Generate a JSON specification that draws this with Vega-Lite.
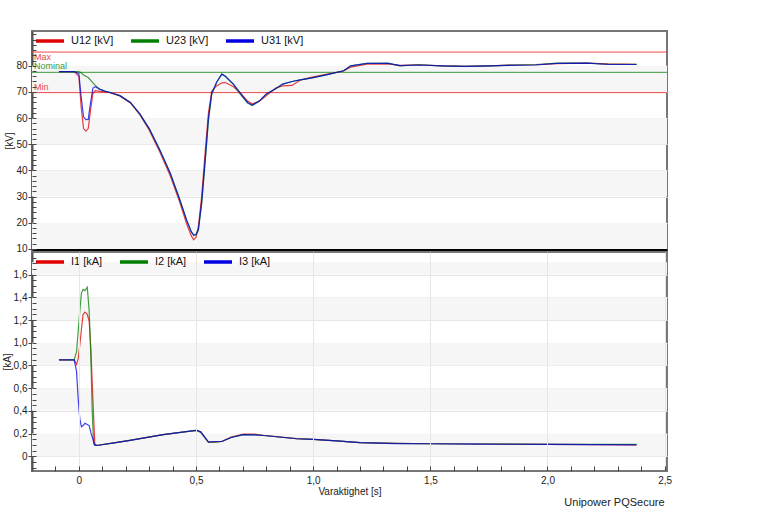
{
  "$schema": "https://vega.github.io/schema/vega-lite/v6.json",
  "padding": {"left": 1, "top": 22, "right": 10, "bottom": 0},
  "bounds": "flush",
  "title": {
    "text": "Unipower PQSecure",
    "orient": "bottom",
    "anchor": "end",
    "fontSize": 11,
    "fontWeight": "normal",
    "color": "#222",
    "offset": 0,
    "dx": -8
  },
  "datasets": {
    "voltage": [
      {"t": -0.085, "U12": 77.8, "U23": 77.8, "U31": 77.8},
      {"t": -0.02, "U12": 77.8, "U23": 77.8, "U31": 77.8},
      {"t": 0.0, "U12": 76, "U23": 77.8, "U31": 77},
      {"t": 0.01, "U12": 64, "U23": 77.3, "U31": 68},
      {"t": 0.02, "U12": 56, "U23": 76.5, "U31": 60.5},
      {"t": 0.03, "U12": 55, "U23": 76, "U31": 59.4},
      {"t": 0.04, "U12": 56, "U23": 75.5, "U31": 59.5},
      {"t": 0.05, "U12": 63, "U23": 74.5, "U31": 66},
      {"t": 0.06, "U12": 69.5, "U23": 73.5, "U31": 71.5},
      {"t": 0.07, "U12": 70.5, "U23": 72.5, "U31": 72},
      {"t": 0.09, "U12": 70.2, "U23": 71, "U31": 71},
      {"t": 0.11, "U12": 70, "U23": 70.3, "U31": 70.3},
      {"t": 0.13, "U12": 69.8, "U23": 69.9, "U31": 69.9},
      {"t": 0.175, "U12": 68.5, "U23": 68.6, "U31": 68.6},
      {"t": 0.22, "U12": 65.8, "U23": 66, "U31": 66},
      {"t": 0.26, "U12": 61.3, "U23": 61.6, "U31": 61.6},
      {"t": 0.30, "U12": 55.5, "U23": 56, "U31": 56},
      {"t": 0.346, "U12": 47, "U23": 47.7, "U31": 47.7},
      {"t": 0.39, "U12": 38, "U23": 38.9, "U31": 38.9},
      {"t": 0.43, "U12": 28, "U23": 29, "U31": 29},
      {"t": 0.46, "U12": 19.5, "U23": 21, "U31": 21},
      {"t": 0.48, "U12": 15, "U23": 16.5, "U31": 16.5},
      {"t": 0.49, "U12": 13.5, "U23": 15.4, "U31": 15.2},
      {"t": 0.50, "U12": 14.5, "U23": 15.5, "U31": 15.5},
      {"t": 0.51, "U12": 18.5, "U23": 17, "U31": 17.5},
      {"t": 0.524, "U12": 30, "U23": 27, "U31": 28},
      {"t": 0.538, "U12": 46, "U23": 42, "U31": 43},
      {"t": 0.553, "U12": 62, "U23": 59, "U31": 60},
      {"t": 0.567, "U12": 70.3, "U23": 69, "U31": 69.5},
      {"t": 0.588, "U12": 72.3, "U23": 73.7, "U31": 73.7},
      {"t": 0.61, "U12": 73.5, "U23": 76.8, "U31": 76.8},
      {"t": 0.625, "U12": 73.6, "U23": 76, "U31": 76},
      {"t": 0.66, "U12": 72, "U23": 72.8, "U31": 73},
      {"t": 0.69, "U12": 69.5, "U23": 69, "U31": 69.5},
      {"t": 0.72, "U12": 66.5, "U23": 65.8, "U31": 66},
      {"t": 0.74, "U12": 65.5, "U23": 64.8, "U31": 65},
      {"t": 0.77, "U12": 66.5, "U23": 66.5, "U31": 66.5},
      {"t": 0.80, "U12": 68.5, "U23": 69.2, "U31": 69.2},
      {"t": 0.84, "U12": 71.5, "U23": 71.2, "U31": 71.2},
      {"t": 0.87, "U12": 72.3, "U23": 73, "U31": 73},
      {"t": 0.91, "U12": 72.5, "U23": 74, "U31": 74},
      {"t": 0.944, "U12": 74.5, "U23": 74.6, "U31": 74.6},
      {"t": 0.99, "U12": 75.6, "U23": 75.3, "U31": 75.3},
      {"t": 1.06, "U12": 76.8, "U23": 76.6, "U31": 76.6},
      {"t": 1.13, "U12": 78, "U23": 78.1, "U31": 78.1},
      {"t": 1.16, "U12": 79.5, "U23": 80, "U31": 80},
      {"t": 1.23, "U12": 80.6, "U23": 80.9, "U31": 80.9},
      {"t": 1.32, "U12": 80.7, "U23": 81, "U31": 80.9},
      {"t": 1.37, "U12": 80.2, "U23": 80, "U31": 80.1},
      {"t": 1.45, "U12": 80.4, "U23": 80.4, "U31": 80.3},
      {"t": 1.55, "U12": 80, "U23": 80, "U31": 80},
      {"t": 1.65, "U12": 79.8, "U23": 79.8, "U31": 79.8},
      {"t": 1.75, "U12": 80, "U23": 80, "U31": 80},
      {"t": 1.85, "U12": 80.3, "U23": 80.3, "U31": 80.2},
      {"t": 1.95, "U12": 80.4, "U23": 80.5, "U31": 80.3},
      {"t": 2.04, "U12": 80.8, "U23": 81, "U31": 80.9},
      {"t": 2.17, "U12": 81, "U23": 81, "U31": 81},
      {"t": 2.26, "U12": 80.7, "U23": 80.6, "U31": 80.5},
      {"t": 2.38, "U12": 80.6, "U23": 80.6, "U31": 80.5}
    ],
    "current": [
      {"t": -0.085, "I1": 0.85, "I2": 0.85, "I3": 0.85},
      {"t": -0.02, "I1": 0.85, "I2": 0.85, "I3": 0.85},
      {"t": -0.01, "I1": 0.81, "I2": 0.92, "I3": 0.75},
      {"t": -0.003, "I1": 0.86, "I2": 1.10, "I3": 0.51},
      {"t": 0.004, "I1": 0.98, "I2": 1.28, "I3": 0.33},
      {"t": 0.011, "I1": 1.12, "I2": 1.44, "I3": 0.26},
      {"t": 0.018, "I1": 1.25, "I2": 1.47, "I3": 0.27},
      {"t": 0.026, "I1": 1.27, "I2": 1.46, "I3": 0.29},
      {"t": 0.036, "I1": 1.25, "I2": 1.49, "I3": 0.28},
      {"t": 0.044, "I1": 1.19, "I2": 1.28, "I3": 0.27},
      {"t": 0.051, "I1": 0.95, "I2": 0.89, "I3": 0.21},
      {"t": 0.057, "I1": 0.65, "I2": 0.39, "I3": 0.17},
      {"t": 0.063, "I1": 0.35, "I2": 0.11, "I3": 0.13},
      {"t": 0.068, "I1": 0.11, "I2": 0.10, "I3": 0.095},
      {"t": 0.076, "I1": 0.095, "I2": 0.095, "I3": 0.095},
      {"t": 0.15, "I1": 0.118, "I2": 0.118, "I3": 0.118},
      {"t": 0.218, "I1": 0.14, "I2": 0.14, "I3": 0.14},
      {"t": 0.36, "I1": 0.19, "I2": 0.19, "I3": 0.19},
      {"t": 0.45, "I1": 0.215, "I2": 0.215, "I3": 0.215},
      {"t": 0.503, "I1": 0.228, "I2": 0.225, "I3": 0.23},
      {"t": 0.52, "I1": 0.215, "I2": 0.21, "I3": 0.215},
      {"t": 0.553, "I1": 0.124, "I2": 0.124, "I3": 0.124},
      {"t": 0.58, "I1": 0.125, "I2": 0.125, "I3": 0.13},
      {"t": 0.61, "I1": 0.13, "I2": 0.13, "I3": 0.13},
      {"t": 0.65, "I1": 0.168, "I2": 0.165, "I3": 0.165},
      {"t": 0.702, "I1": 0.195, "I2": 0.19, "I3": 0.19},
      {"t": 0.75, "I1": 0.195, "I2": 0.188, "I3": 0.188},
      {"t": 0.788, "I1": 0.185, "I2": 0.183, "I3": 0.183},
      {"t": 0.93, "I1": 0.155, "I2": 0.154, "I3": 0.154},
      {"t": 1.0, "I1": 0.148, "I2": 0.148, "I3": 0.148},
      {"t": 1.1, "I1": 0.135, "I2": 0.135, "I3": 0.135},
      {"t": 1.2, "I1": 0.12, "I2": 0.12, "I3": 0.12},
      {"t": 1.35, "I1": 0.113, "I2": 0.113, "I3": 0.112},
      {"t": 1.5, "I1": 0.11, "I2": 0.11, "I3": 0.11},
      {"t": 1.7, "I1": 0.108, "I2": 0.108, "I3": 0.107},
      {"t": 2.0, "I1": 0.105, "I2": 0.105, "I3": 0.104},
      {"t": 2.2, "I1": 0.103, "I2": 0.104, "I3": 0.102},
      {"t": 2.38, "I1": 0.10, "I2": 0.105, "I3": 0.10}
    ],
    "bandsU": [
      {"lo": 70, "hi": 80},
      {"lo": 50, "hi": 60},
      {"lo": 30, "hi": 40},
      {"lo": 10, "hi": 20}
    ],
    "bandsI": [
      {"lo": 0, "hi": 0.2},
      {"lo": 0.4, "hi": 0.6},
      {"lo": 0.8, "hi": 1.0},
      {"lo": 1.2, "hi": 1.4},
      {"lo": 1.6, "hi": 1.71}
    ],
    "limits": [
      {"name": "Max", "v": 85.25},
      {"name": "Nominal", "v": 77.5},
      {"name": "Min", "v": 69.75}
    ]
  },
  "spacing": 2,
  "resolve": {"scale": {"color": "independent"}},
  "vconcat": [
    {
      "width": 635,
      "height": 219,
      "resolve": {"axis": {"y": "independent"}},
      "layer": [
        {
          "data": {"name": "bandsU"},
          "mark": {"type": "rect", "color": "#f6f6f6"},
          "encoding": {
            "y": {
              "field": "lo",
              "type": "quantitative",
              "scale": {"domain": [9.6, 93.3], "nice": false, "zero": false},
              "axis": {
                "title": "[kV]",
                "orient": "left",
                "values": [10, 20, 30, 40, 50, 60, 70, 80],
                "tickSize": 4
              }
            },
            "y2": {"field": "hi"}
          }
        },
        {
          "data": {"name": "limits"},
          "mark": {"type": "rule", "strokeWidth": 1},
          "encoding": {
            "y": {"field": "v", "type": "quantitative", "axis": null},
            "color": {"condition": {"test": "datum.name === 'Nominal'", "value": "#3c9a3c"}, "value": "#f04848"}
          }
        },
        {
          "data": {"name": "limits"},
          "transform": [{"filter": "datum.name === 'Max'"}],
          "mark": {"type": "text", "align": "left", "baseline": "top", "dx": 2, "dy": 1, "fontSize": 9},
          "encoding": {
            "x": {"datum": -0.2, "type": "quantitative"},
            "y": {"field": "v", "type": "quantitative", "axis": null},
            "text": {"field": "name"},
            "color": {"value": "#f04848"}
          }
        },
        {
          "data": {"name": "limits"},
          "transform": [{"filter": "datum.name !== 'Max'"}],
          "mark": {"type": "text", "align": "left", "baseline": "bottom", "dx": 2, "dy": -1, "fontSize": 9},
          "encoding": {
            "x": {"datum": -0.2, "type": "quantitative"},
            "y": {"field": "v", "type": "quantitative", "axis": null},
            "text": {"field": "name"},
            "color": {"condition": {"test": "datum.name === 'Nominal'", "value": "#3c9a3c"}, "value": "#f04848"}
          }
        },
        {
          "data": {"name": "voltage"},
          "transform": [{"fold": ["U12", "U23", "U31"], "as": ["series", "v"]}],
          "mark": {"type": "line", "strokeWidth": 1.2, "opacity": 0.75},
          "encoding": {
            "x": {
              "field": "t",
              "type": "quantitative",
              "scale": {"domain": [-0.2, 2.51], "nice": false, "zero": false},
              "axis": {
                "title": null,
                "labels": false,
                "ticks": false,
                "domainColor": "#000",
                "domainWidth": 3,
                "minExtent": 0,
                "maxExtent": 0,
                "values": [0, 0.5, 1, 1.5, 2, 2.5]
              }
            },
            "y": {
              "field": "v",
              "type": "quantitative",
              "axis": {
                "title": null,
                "orient": "left",
                "labels": false,
                "grid": false,
                "domain": false,
                "zindex": 1,
                "offset": -4,
                "tickSize": 4,
                "minExtent": 0,
                "maxExtent": 0,
                "values": [10, 12, 14, 16, 18, 20, 22, 24, 26, 28, 30, 32, 34, 36, 38, 40, 42, 44, 46, 48, 50, 52, 54, 56, 58, 60, 62, 64, 66, 68, 70, 72, 74, 76, 78, 80, 82, 84, 86, 88, 90, 92]
              }
            },
            "color": {
              "field": "series",
              "type": "nominal",
              "scale": {"range": ["#e00000", "#008000", "#0000e0"]},
              "legend": {"labelExpr": "datum.label + ' [kV]'", "orient": "none", "legendX": 0, "legendY": -8}
            }
          }
        }
      ]
    },
    {
      "width": 635,
      "height": 219,
      "resolve": {"axis": {"y": "independent"}},
      "layer": [
        {
          "data": {"name": "bandsI"},
          "mark": {"type": "rect", "color": "#f6f6f6"},
          "encoding": {
            "y": {
              "field": "lo",
              "type": "quantitative",
              "scale": {"domain": [-0.13, 1.8], "nice": false, "zero": false},
              "axis": {
                "title": "[kA]",
                "orient": "left",
                "values": [0, 0.2, 0.4, 0.6, 0.8, 1.0, 1.2, 1.4, 1.6],
                "labelExpr": "datum.value === 0 ? '0' : replace(format(datum.value, '.1f'), '.', ',')",
                "tickSize": 4
              }
            },
            "y2": {"field": "hi"}
          }
        },
        {
          "data": {"name": "current"},
          "transform": [{"fold": ["I1", "I2", "I3"], "as": ["series", "v"]}],
          "mark": {"type": "line", "strokeWidth": 1.2, "opacity": 0.75},
          "encoding": {
            "x": {
              "field": "t",
              "type": "quantitative",
              "scale": {"domain": [-0.2, 2.51], "nice": false, "zero": false},
              "axis": {
                "title": "Varaktighet [s]",
                "titlePadding": 1,
                "zindex": 1,
                "offset": -5,
                "domain": false,
                "values": [-0.1, 0, 0.1, 0.2, 0.3, 0.4, 0.5, 0.6, 0.7, 0.8, 0.9, 1.0, 1.1, 1.2, 1.3, 1.4, 1.5, 1.6, 1.7, 1.8, 1.9, 2.0, 2.1, 2.2, 2.3, 2.4, 2.5],
                "labelExpr": "abs(datum.value * 2 - round(datum.value * 2)) < 0.001 ? (abs(datum.value) < 0.001 ? '0' : replace(format(datum.value, '.1f'), '.', ',')) : ''",
                "gridOpacity": {"condition": {"test": "abs(datum.value * 2 - round(datum.value * 2)) < 0.001", "value": 1}, "value": 0},
                "tickSize": 5,
                "labelPadding": 4
              }
            },
            "y": {
              "field": "v",
              "type": "quantitative",
              "axis": {
                "title": null,
                "orient": "left",
                "labels": false,
                "grid": false,
                "domain": false,
                "zindex": 1,
                "offset": -4,
                "tickSize": 4,
                "minExtent": 0,
                "maxExtent": 0,
                "values": [-0.1, -0.05, 0, 0.05, 0.1, 0.15, 0.2, 0.25, 0.3, 0.35, 0.4, 0.45, 0.5, 0.55, 0.6, 0.65, 0.7, 0.75, 0.8, 0.85, 0.9, 0.95, 1.0, 1.05, 1.1, 1.15, 1.2, 1.25, 1.3, 1.35, 1.4, 1.45, 1.5, 1.55, 1.6, 1.65, 1.7, 1.75]
              }
            },
            "color": {
              "field": "series",
              "type": "nominal",
              "scale": {"range": ["#e00000", "#008000", "#0000e0"]},
              "legend": {"labelExpr": "datum.label + ' [kA]'", "orient": "none", "legendX": 0, "legendY": -8}
            }
          }
        }
      ]
    }
  ],
  "config": {
    "font": "Liberation Sans",
    "view": {"stroke": "#777", "strokeWidth": 2},
    "axis": {
      "labelFont": "Liberation Sans",
      "labelFontSize": 10,
      "labelColor": "#222",
      "labelOverlap": false,
      "titleFont": "Liberation Sans",
      "titleFontSize": 10,
      "titleFontWeight": "normal",
      "titleColor": "#222",
      "gridColor": "#e6e6e6",
      "gridWidth": 1,
      "tickColor": "#444",
      "domainColor": "#555",
      "domainWidth": 2
    },
    "axisY": {"labelPadding": 1, "titlePadding": 1, "minExtent": 0},
    "legend": {
      "direction": "horizontal",
      "title": null,
      "padding": 2,
      "symbolType": "stroke",
      "symbolSize": 784,
      "symbolStrokeWidth": 3.5,
      "symbolOpacity": 1,
      "labelFont": "Liberation Sans",
      "labelFontSize": 11,
      "labelColor": "#111",
      "labelOffset": 5,
      "columnPadding": 10
    }
  }
}
